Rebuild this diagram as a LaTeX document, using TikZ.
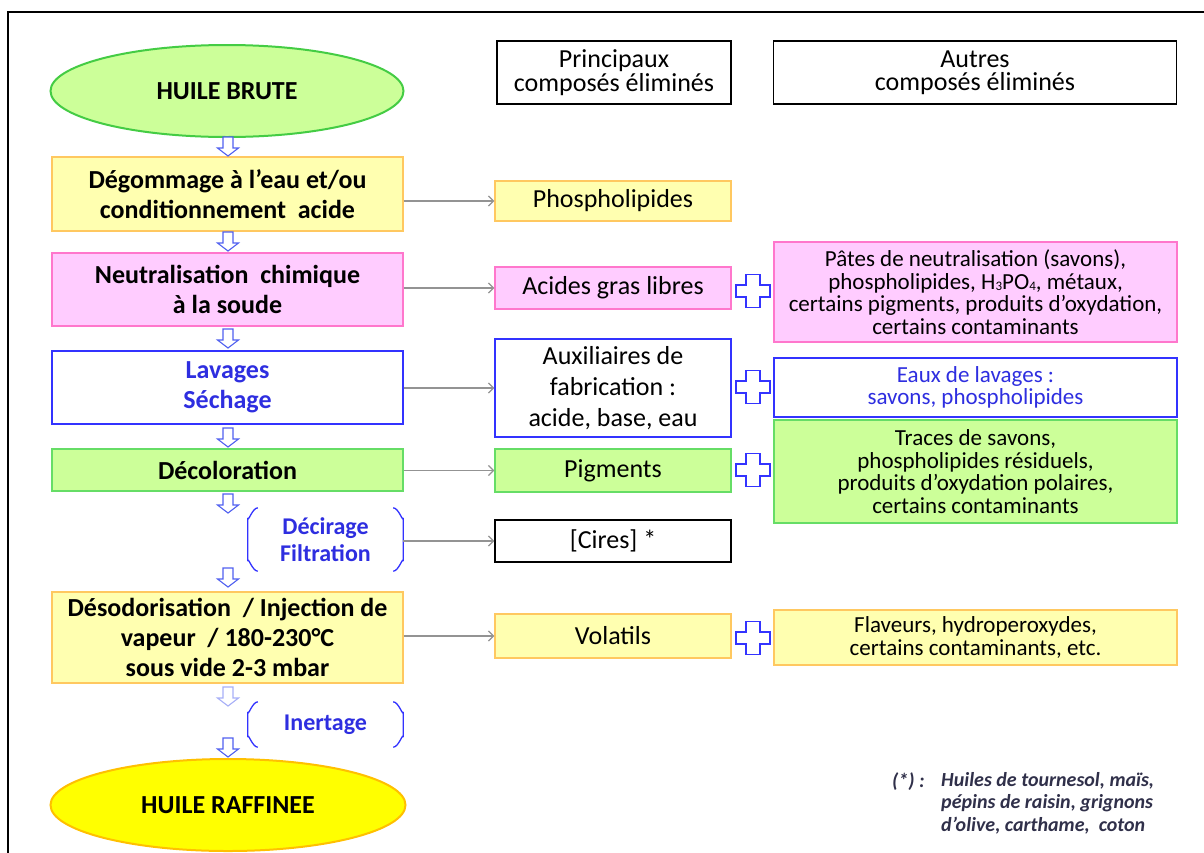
\documentclass[tikz,border=0pt]{standalone}
\usepackage{fontspec}
\setmainfont{Carlito}
\usetikzlibrary{shapes.geometric,arrows.meta,calc}
\definecolor{lgreen}{HTML}{CCFF99}
\definecolor{dgreen}{HTML}{44CC44}
\definecolor{lyellow}{HTML}{FFFFB0}
\definecolor{orangeb}{HTML}{FFC860}
\definecolor{lpink}{HTML}{FFCCFF}
\definecolor{pinkb}{HTML}{FF77CC}
\definecolor{bblue}{HTML}{3333FF}
\definecolor{tblue}{HTML}{2E2EE0}
\definecolor{ryellow}{HTML}{FFFF00}
\definecolor{rorange}{HTML}{FFC000}
\definecolor{gboxb}{HTML}{66DD66}
\definecolor{arrblue}{HTML}{5060F0}
\definecolor{fncol}{HTML}{30304A}
\newcommand{\lowsub}[1]{\raisebox{-0.12ex}{\fontsize{13}{13}\selectfont #1}}
\begin{document}
\begin{tikzpicture}[x=1pt,y=-1pt,
  stepbox/.style={draw, line width=1.3pt, minimum width=351pt, align=center, inner sep=0pt,
    font=\fontsize{26}{30}\selectfont\bfseries},
  oval/.style={ellipse, draw, line width=2pt, minimum width=353pt, minimum height=92pt, inner sep=0pt,
    font=\fontsize{26}{28}\selectfont\bfseries},
  mainbox/.style={draw, line width=1.3pt, minimum width=236pt, align=center, inner sep=0pt,
    font=\fontsize{26}{31}\selectfont},
  otherbox/.style={draw, line width=1.3pt, minimum width=403pt, align=center, inner sep=0pt,
    font=\fontsize{23}{22.5}\selectfont},
  headbox/.style={draw, line width=1.2pt, minimum height=63pt, align=center, inner sep=0pt,
    font=\fontsize{26}{23.5}\selectfont},
  group/.style={minimum width=155pt, align=center, inner sep=0pt, text=tblue,
    font=\fontsize{24}{27}\selectfont\bfseries},
  brk/.style={draw=bblue, line width=1.3pt},
  conn/.style={draw=gray!85, line width=1.3pt, -{Straight Barb[length=5pt,width=10pt]}},
  downarr/.pic={\draw[arrblue, line width=1.1pt, fill=white, line join=miter]
    (-5,-19) -- (5,-19) -- (5,-8) -- (10.5,-8) -- (0,0) -- (-10.5,-8) -- (-5,-8) -- cycle;},
  plussign/.pic={\draw[bblue, line width=1.4pt, fill=white]
    (-7,-16.5) -- (7,-16.5) -- (7,-6) -- (17,-6) -- (17,6) -- (7,6) -- (7,16.5) -- (-7,16.5)
    -- (-7,6) -- (-17,6) -- (-17,-6) -- (-7,-6) -- cycle;}
]
\useasboundingbox (0,0) rectangle (1204,852);
\fill[white] (0,0) rectangle (1204,852);
% frame
\draw[line width=2.5pt] (8,870) -- (8,12) -- (1220,12);

% left column
\node[oval, fill=lgreen, draw=dgreen] (e1) at (227,91) {HUILE BRUTE};
\node[stepbox, fill=lyellow, draw=orangeb, minimum height=74pt] (b1) at (227.5,194)
  {Dégommage à l’eau et/ou\\conditionnement\ \ acide};
\node[stepbox, fill=lpink, draw=pinkb, minimum height=73pt] (b2) at (227.5,289.5)
  {Neutralisation\ \ chimique\\à la soude};
\node[stepbox, fill=white, draw=bblue, text=tblue, minimum height=73pt] (b3) at (227.5,387.5)
  {Lavages\\Séchage};
\node[stepbox, fill=lgreen, draw=gboxb, minimum height=42pt] (b4) at (227.5,470)
  {Décoloration};
\node[group, minimum height=63pt] (g1) at (325.5,539.5) {Décirage\\Filtration};
\node[stepbox, fill=lyellow, draw=orangeb, minimum height=91pt] (b5) at (227.5,637.5)
  {Désodorisation\ \ / Injection de\\vapeur\ \ / 180-230°C\\sous vide 2-3 mbar};
\node[group, minimum height=45pt] (g2) at (325.5,724.5) {Inertage};
\node[oval, fill=ryellow, draw=rorange, minimum width=355pt] (e2) at (228,805) {HUILE RAFFINEE};

% brackets
\foreach \g in {g1,g2}{
  \draw[brk] ($(\g.north west)+(10,0)$) to[out=180,in=-90] ($(\g.north west)+(0,10)$)
    -- ($(\g.south west)+(0,-10)$) to[out=90,in=180] ($(\g.south west)+(10,0)$);
  \draw[brk] ($(\g.north east)+(-10,0)$) to[out=0,in=-90] ($(\g.north east)+(0,10)$)
    -- ($(\g.south east)+(0,-10)$) to[out=90,in=0] ($(\g.south east)+(-10,0)$);
}

% process arrows
\foreach \yy in {156,251,348,447,513,587,757}{ \pic at (228,\yy) {downarr}; }
\begin{scope}[opacity=0.5]\pic at (228,706) {downarr};\end{scope}

% headers
\node[headbox, minimum width=234pt] (h1) at (614,72.5) {Principaux\\composés éliminés};
\node[headbox, minimum width=403pt] (h2) at (975,72.5) {Autres\\composés éliminés};

% main compounds
\node[mainbox, fill=lyellow, draw=orangeb, minimum height=40pt] (phos) at (613,201) {Phospholipides};
\node[mainbox, fill=lpink, draw=pinkb, minimum height=42pt] (acid) at (613,288) {Acides gras libres};
\node[mainbox, fill=white, draw=bblue, minimum height=98pt] (aux) at (613,388)
  {Auxiliaires de\\fabrication :\\acide, base, eau};
\node[mainbox, fill=lgreen, draw=gboxb, minimum height=43pt] (pig) at (613,470.5) {Pigments};
\node[mainbox, fill=white, draw=black, minimum height=42pt] (cires) at (613,541) {[Cires] *};
\node[mainbox, fill=lyellow, draw=orangeb, minimum height=44pt] (vol) at (613,636) {Volatils};

% other compounds
\node[otherbox, fill=lpink, draw=pinkb, minimum height=100pt] (pates) at (975.5,292)
  {Pâtes de neutralisation (savons),\\phospholipides, H\lowsub{3}PO\lowsub{4}, métaux,\\certains pigments, produits d’oxydation,\\certains contaminants};
\node[otherbox, fill=white, draw=bblue, text=tblue, minimum height=59pt] (eaux) at (975.5,387.5)
  {Eaux de lavages :\\savons, phospholipides};
\node[otherbox, fill=lgreen, draw=gboxb, minimum height=103pt] (traces) at (975.5,471.5)
  {Traces de savons,\\phospholipides résiduels,\\produits d’oxydation polaires,\\certains contaminants};
\node[otherbox, fill=lyellow, draw=orangeb, minimum height=55pt] (flav) at (975.5,637.5)
  {Flaveurs, hydroperoxydes,\\certains contaminants, etc.};

% plus signs
\foreach \yy in {291,387,470,638}{ \pic at (753,\yy) {plussign}; }

% connectors
\draw[conn] (phos.west -| b1.east) -- (phos.west);
\draw[conn] (acid.west -| b2.east) -- (acid.west);
\draw[conn] (aux.west -| b3.east) -- (aux.west);
\draw[conn] (pig.west -| b4.east) -- (pig.west);
\draw[conn] (cires.west -| g1.east) -- (cires.west);
\draw[conn] (vol.west -| b5.east) -- (vol.west);

% footnote
\node[anchor=north west, inner sep=0pt, text=fncol, font=\fontsize{20}{22.5}\selectfont\bfseries\itshape] (fnm) at (892,772) {(*) :};
\node[anchor=north west, inner sep=0pt, align=left, text=fncol, font=\fontsize{20}{22.5}\selectfont\bfseries\itshape] (fnt) at (941,772)
  {Huiles de tournesol, maïs,\\pépins de raisin, grignons\\d’olive, carthame,\ \ coton};
\end{tikzpicture}
\end{document}
